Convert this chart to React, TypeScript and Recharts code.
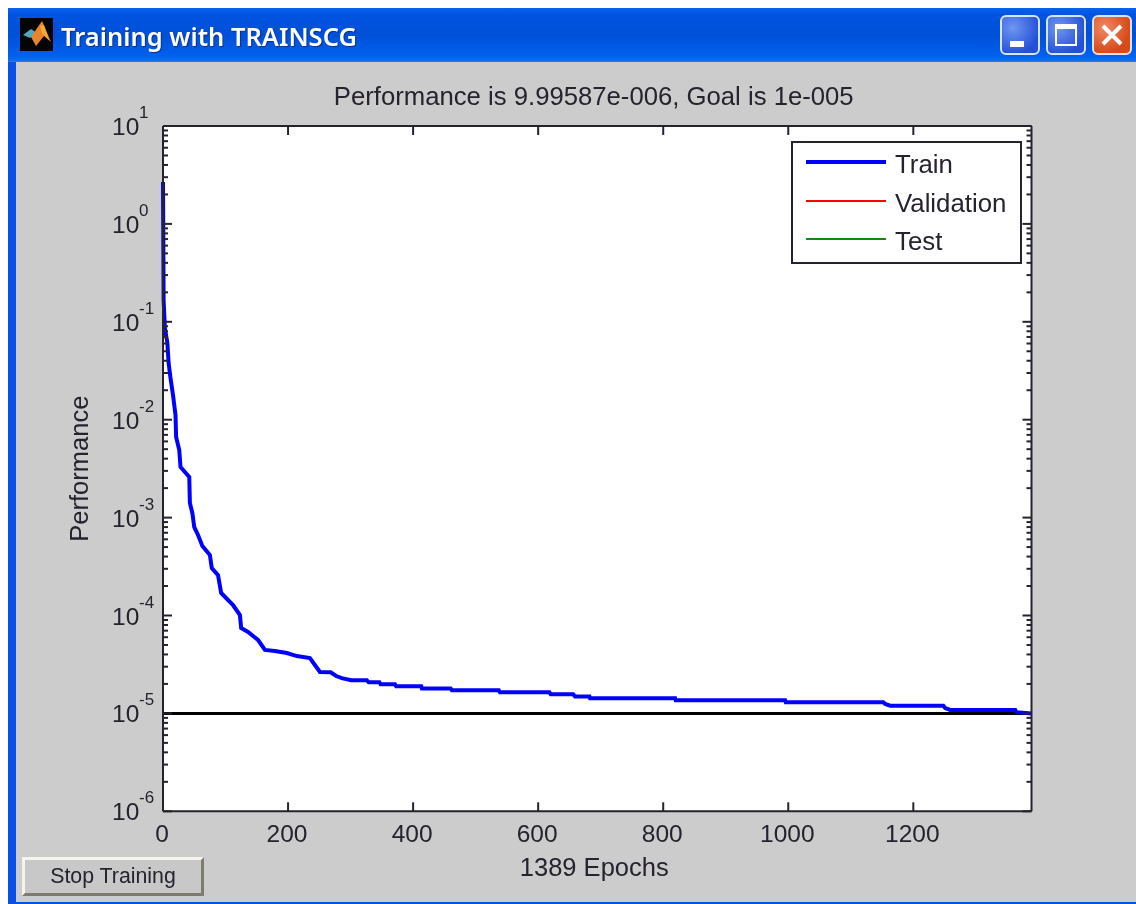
import React from "react";
import {
  LineChart,
  Line,
  XAxis,
  YAxis,
  Legend,
} from "recharts";

const epochs = [
  0, 1, 3, 7, 9, 12, 16, 20, 21, 26, 28, 35, 42, 43, 47, 50, 56, 63, 75, 78, 88, 93, 112, 123, 125,
  136, 152, 163, 179, 198, 214, 235, 251, 268, 277, 286, 301, 326, 329, 346, 348, 371, 373, 413,
  414, 460, 462, 537, 539, 618, 620, 656, 659, 682, 683, 819, 820, 995, 996, 1152, 1155, 1163,
  1248, 1251, 1259, 1363, 1365, 1389,
];

const trainValues = [
  2.68, 0.167, 0.0865, 0.0607, 0.0379, 0.0267, 0.0179, 0.0112, 0.00665, 0.00491, 0.00329, 0.00292,
  0.0026, 0.00141, 0.00111, 0.0008, 0.000664, 0.000513, 0.000415, 0.000305, 0.000259, 0.00017,
  0.000128, 0.000101, 7.45e-5, 6.78e-5, 5.62e-5, 4.45e-5, 4.34e-5, 4.14e-5, 3.85e-5, 3.68e-5,
  2.65e-5, 2.63e-5, 2.41e-5, 2.29e-5, 2.18e-5, 2.18e-5, 2.08e-5, 2.08e-5, 1.98e-5, 1.98e-5,
  1.89e-5, 1.89e-5, 1.8e-5, 1.8e-5, 1.72e-5, 1.72e-5, 1.64e-5, 1.64e-5, 1.57e-5, 1.57e-5, 1.49e-5,
  1.49e-5, 1.43e-5, 1.43e-5, 1.36e-5, 1.36e-5, 1.3e-5, 1.3e-5, 1.25e-5, 1.2e-5, 1.2e-5, 1.135e-5,
  1.084e-5, 1.084e-5, 1.03e-5, 9.99587e-6,
];

const goalValue = 1e-5;
const xTicks = [0, 200, 400, 600, 800, 1000, 1200];
const decades = [-6, -5, -4, -3, -2, -1, 0];
const minorFactors = [2, 3, 4, 5, 6, 7, 8, 9];

const yTicks = [
  ...decades.flatMap((d) => [Number(`1e${d}`), ...minorFactors.map((m) => Number(`${m}e${d}`))]),
  10,
];

const chartData = epochs.map((epoch, i) => ({
  epoch,
  train: trainValues[i],
  goal: goalValue,
  validation: null,
  test: null,
}));

const FONT = '"Liberation Sans", Arial, sans-serif';
const INK = "#26222e";
const GREY = "#cccccc";

function isMajor(value: number) {
  const e = Math.log10(value);
  return Math.abs(e - Math.round(e)) < 1e-9;
}

function LeftTick({ x, y, payload }: any) {
  const major = isMajor(payload.value);
  const exp = Math.round(Math.log10(payload.value));
  return (
    <g>
      <line x1={x} x2={x + (major ? 9 : 5)} y1={y} y2={y} stroke={INK} strokeWidth={2} />
      {major && (
        <text fontFamily={FONT} fill={INK}>
          <tspan x={x - 51} y={y + 9} fontSize={24.5}>10</tspan>
          <tspan x={x - 24} y={y - 8} fontSize={17}>{exp}</tspan>
        </text>
      )}
    </g>
  );
}

function RightTick({ x, y, payload }: any) {
  const major = isMajor(payload.value);
  return <line x1={x} x2={x - (major ? 9 : 5)} y1={y} y2={y} stroke={INK} strokeWidth={2} />;
}

function BottomTick({ x, y, payload }: any) {
  return (
    <g>
      <line x1={x} x2={x} y1={y} y2={y - 9} stroke={INK} strokeWidth={2} />
      <text x={x - 1} y={y + 31} textAnchor="middle" fontFamily={FONT} fontSize={24.5} fill={INK}>
        {payload.value}
      </text>
    </g>
  );
}

function TopTick({ x, y }: any) {
  return <line x1={x} x2={x} y1={y} y2={y + 9} stroke={INK} strokeWidth={2} />;
}

function LegendBox({ payload }: any) {
  const rows = (payload || []).filter((p: any) => p.value !== "Goal");
  return (
    <div
      style={{
        boxSizing: "border-box",
        width: 231,
        height: 123,
        background: "#fff",
        border: `2px solid ${INK}`,
        fontFamily: FONT,
        fontSize: 25.8,
        color: INK,
      }}
    >
      {rows.map((p: any, i: number) => (
        <div key={p.value} style={{ position: "absolute", left: 0, top: 2 + i * 38.5, height: 38, width: 231 }}>
          <div
            style={{
              position: "absolute",
              left: 15,
              top: i === 0 ? 17 : 18,
              width: 80,
              height: i === 0 ? 4 : 2,
              background: p.color,
            }}
          />
          <span style={{ position: "absolute", left: 104, top: 7, lineHeight: "28px" }}>{p.value}</span>
        </div>
      ))}
    </div>
  );
}

function WinButton({ left, close, children }: any) {
  return (
    <div
      style={{
        position: "absolute",
        left,
        top: 15,
        width: 40,
        height: 40,
        boxSizing: "border-box",
        border: "2px solid #d8e4f8",
        borderRadius: 6,
        background: close
          ? "radial-gradient(circle at 30% 30%, #ee8a68, #d84a18 70%)"
          : "radial-gradient(circle at 30% 30%, #6f96f0, #2450d8 75%)",
      }}
    >
      {children}
    </div>
  );
}

function MatlabIcon() {
  return (
    <svg width={33} height={33} style={{ position: "absolute", left: 20, top: 18 }}>
      <rect width={33} height={33} fill="#050505" />
      <polygon points="3,17 11,11 17,15 10,20" fill="#4fa8c0" />
      <polygon points="11,19 22,3 31,24 24,18 16,28" fill="#e8842a" />
      <polygon points="20,8 24,7 29,22 22,15" fill="#f4a838" />
    </svg>
  );
}

export default function App() {
  return (
    <div
      style={{
        position: "absolute",
        left: 0,
        top: 0,
        width: 1136,
        height: 904,
        overflow: "hidden",
        background: "#fff",
        filter: "blur(0.6px)",
      }}
    >
      {/* window frame */}
      <div style={{ position: "absolute", left: 8, top: 8, width: 1128, height: 896, background: "#0a50e6" }} />
      <div style={{ position: "absolute", left: 16, top: 62, width: 1120, height: 840, background: GREY }} />
      <div
        style={{
          position: "absolute",
          left: 8,
          top: 8,
          width: 1128,
          height: 54,
          background: "linear-gradient(#0a62f0 0%, #0054e0 12%, #0050d8 50%, #0060ee 88%, #0a68f4 96%, #3a78d8 100%)",
        }}
      />
      <MatlabIcon />
      <div
        style={{
          position: "absolute",
          left: 61,
          top: 18,
          fontFamily: '"Noto Sans", sans-serif',
          fontWeight: 600,
          fontSize: 25.5,
          lineHeight: "36px",
          color: "#fff",
          textShadow: "1px 1px 1px #0a2f90",
          whiteSpace: "nowrap",
        }}
      >
        Training with TRAINSCG
      </div>
      <WinButton left={1000}>
        <div style={{ position: "absolute", left: 8, top: 24, width: 14, height: 6, background: "#fff" }} />
      </WinButton>
      <WinButton left={1046}>
        <div
          style={{
            position: "absolute",
            left: 7,
            top: 7,
            width: 22,
            height: 22,
            boxSizing: "border-box",
            border: "2px solid #fff",
            borderTopWidth: 5,
          }}
        />
      </WinButton>
      <WinButton left={1092} close>
        <svg width={36} height={36} style={{ position: "absolute", left: 0, top: 0 }}>
          <path d="M9 9 L27 27 M27 9 L9 27" stroke="#fff" strokeWidth={4} />
        </svg>
      </WinButton>

      <div style={{ position: "absolute", left: 163, top: 126, width: 868.5, height: 685.3, background: "#fff" }} />

      <LineChart
        width={1136}
        height={904}
        data={chartData}
        margin={{ top: 125, left: 162, right: 103.5, bottom: 91.7 }}
        style={{ position: "absolute", left: 0, top: 0 }}
      >
        <XAxis
          dataKey="epoch"
          type="number"
          domain={[0, 1389]}
          ticks={xTicks}
          interval={0}
          height={1}
          tickSize={0}
          tickMargin={0}
          tickLine={false}
          axisLine={{ stroke: INK, strokeWidth: 2 }}
          tick={BottomTick}
          label={{
            value: "1389 Epochs",
            position: "bottom",
            offset: 46,
            dx: -3,
            fontFamily: FONT,
            fontSize: 25.5,
            fill: INK,
          }}
        />
        <XAxis
          xAxisId="top"
          orientation="top"
          dataKey="epoch"
          type="number"
          domain={[0, 1389]}
          ticks={xTicks}
          interval={0}
          height={1}
          tickSize={0}
          tickMargin={0}
          tickLine={false}
          axisLine={{ stroke: INK, strokeWidth: 2 }}
          tick={TopTick}
          label={{
            value: "Performance is 9.99587e-006, Goal is 1e-005",
            position: "top",
            offset: 20,
            dx: -3.5,
            fontFamily: FONT,
            fontSize: 25.7,
            fill: INK,
          }}
        />
        <YAxis
          scale="log"
          domain={[1e-6, 10]}
          allowDataOverflow
          ticks={yTicks}
          interval={0}
          width={1}
          tickSize={0}
          tickMargin={0}
          tickLine={false}
          axisLine={{ stroke: INK, strokeWidth: 2 }}
          tick={LeftTick}
          label={{
            value: "Performance",
            angle: -90,
            position: "left",
            offset: 83,
            textAnchor: "middle",
            fontFamily: FONT,
            fontSize: 25.5,
            fill: INK,
          }}
        />
        <YAxis
          yAxisId="right"
          orientation="right"
          scale="log"
          domain={[1e-6, 10]}
          allowDataOverflow
          ticks={yTicks}
          interval={0}
          width={1}
          tickSize={0}
          tickMargin={0}
          tickLine={false}
          axisLine={{ stroke: INK, strokeWidth: 2 }}
          tick={RightTick}
        />
        <Line dataKey="goal" name="Goal" stroke="#000" strokeWidth={3} dot={false} isAnimationActive={false} />
        <Line dataKey="train" name="Train" stroke="#0000ff" strokeWidth={4} dot={false} isAnimationActive={false} />
        <Line dataKey="validation" name="Validation" stroke="#ff0000" strokeWidth={2} dot={false} isAnimationActive={false} />
        <Line dataKey="test" name="Test" stroke="#108a10" strokeWidth={2} dot={false} isAnimationActive={false} />
        <Legend
          layout="horizontal"
          align="center"
          verticalAlign="middle"
          itemSorter={null}
          width={231}
          height={123}
          wrapperStyle={{ position: "absolute", left: 791, top: 141, width: 231, height: 123 }}
          content={LegendBox}
        />
      </LineChart>

      <div
        style={{
          position: "absolute",
          left: 22,
          top: 857,
          width: 182,
          height: 39,
          boxSizing: "border-box",
          background: "#c8c8c8",
          borderStyle: "solid",
          borderWidth: 3,
          borderColor: "#f4f4ec #7e7c6c #7e7c6c #f4f4ec",
          fontFamily: FONT,
          fontSize: 21.3,
          lineHeight: "32px",
          textAlign: "center",
          color: INK,
        }}
      >
        Stop Training
      </div>
    </div>
  );
}
